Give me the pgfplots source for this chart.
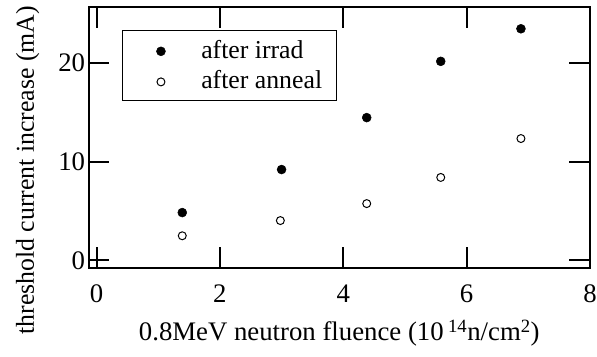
\documentclass[border=0pt]{standalone}
\usepackage{pgfplots}
\pgfplotsset{compat=1.18}
\usepackage{fontspec}
\setmainfont{Liberation Serif}
\pgfplotsset{mylegimg/.style={legend image code/.code={\path (0bp,0bp) (64bp,0bp); \draw[##1] plot coordinates {(26bp,-1.5bp)};}}}
\begin{document}
\begin{tikzpicture}
\begin{axis}[
  scale only axis,
  width=504bp, height=263bp,
  xmin=-0.129, xmax=8.0,
  ymin=-0.81, ymax=25.7,
  xtick={0,2,4,6,8},
  ytick={0,10,20},
  tick align=inside,
  major tick length=21bp,
  every tick/.style={line width=2bp, black},
  axis line style={line width=2bp},
  /pgf/number format/assume math mode=true,
  ticklabel style={font=\fontsize{27}{31}\selectfont},
  xticklabel style={yshift=-13bp},
  xlabel={0.8MeV neutron fluence (10\,\textsuperscript{14}n/cm\textsuperscript{2})},
  ylabel={threshold current increase (mA)},
  xlabel style={font=\fontsize{27}{31}\selectfont, at={(axis description cs:0.5,-0.2776)}, anchor=base},
  ylabel style={font=\fontsize{26}{30}\selectfont, at={(axis description cs:-0.109,0.375)}, anchor=base, rotate=0},
  legend style={at={(axis description cs:0.067,0.9125)}, anchor=north west, draw=black, line width=1bp,
    font=\fontsize{26}{30}\selectfont, inner xsep=12bp, inner ysep=8bp, row sep=7bp,
    nodes={inner sep=2bp}},
  legend cell align=left,
  clip=false,
]
\addplot[only marks, mark=*, mark size=4.5bp, mark options={fill=black, draw=black, line width=0.5bp}, mylegimg]
  coordinates {(1.39,4.84) (3.0,9.2) (4.38,14.46) (5.58,20.16) (6.88,23.46)};
\addlegendentry{after irrad}
\addplot[only marks, mark=o, mark size=4bp, mark options={draw=black, line width=1bp}, mylegimg]
  coordinates {(1.39,2.49) (2.98,4.03) (4.38,5.75) (5.58,8.4) (6.88,12.34)};
\addlegendentry{after anneal}
\coordinate (sw) at (rel axis cs:0,0);
\coordinate (ne) at (rel axis cs:1,1);
\end{axis}
\pgfresetboundingbox
\path (sw) ++(-89bp,-88.3bp) (ne) ++(7bp,6.7bp);
\end{tikzpicture}
\end{document}
